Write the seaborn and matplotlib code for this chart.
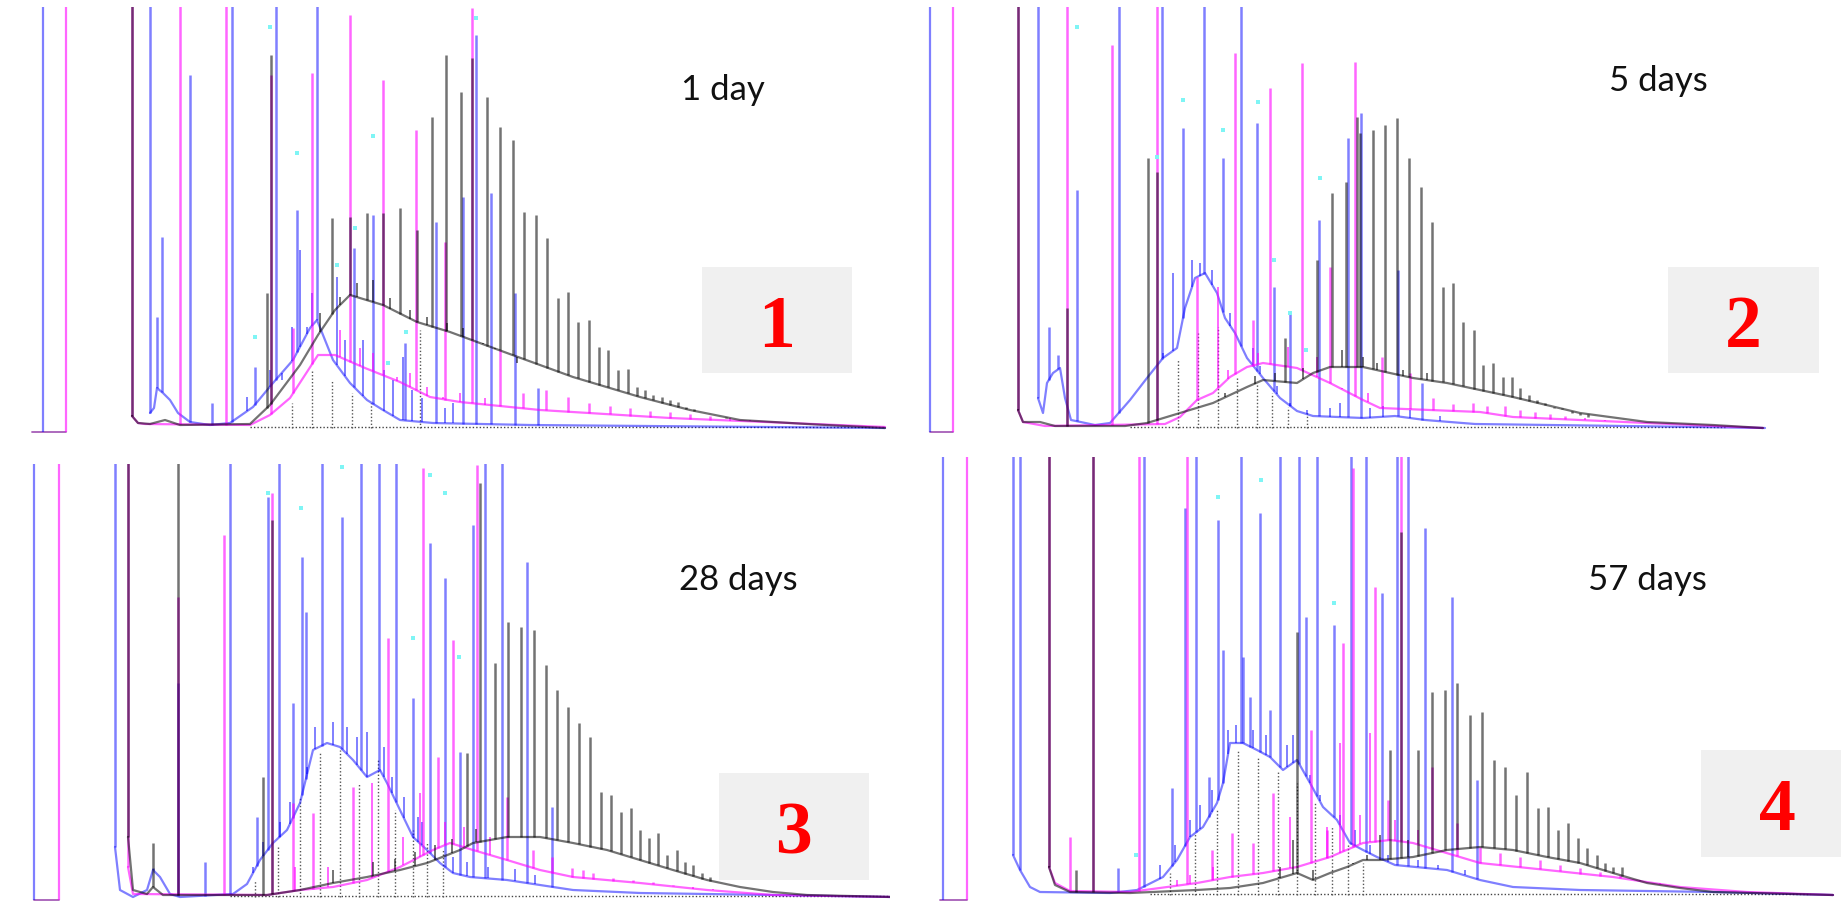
import numpy as np
import matplotlib
matplotlib.use("Agg")
import matplotlib.pyplot as plt
import seaborn as sns
from matplotlib.patches import Rectangle

# ---- data: retention time (rel. units) / intensity (counts above baseline) ----
# values of 480 are off-scale peaks (clipped at the top of each trace window)

day_labels = ["1 day", "5 days", "28 days", "57 days"]
panel_numbers = ["1", "2", "3", "4"]

# panel 1 (1 day)
p1_pre = [1.3, 3.6, 0.2, -4]          # blue line rt, magenta line rt, baseline start, baseline level
p1_blue_hump = [(12.0, 15), (12.4, 20), (12.7, 40), (13.3, 35), (14.0, 28), (14.8, 15), (16.0, 6), (18.0, 3),
                (20.0, 5), (22.3, 21), (24.3, 45), (26.3, 68), (28.0, 100), (28.7, 108), (30.3, 68), (32.0, 45),
                (33.7, 28), (35.3, 18), (37.0, 8), (40.3, 5), (50.0, 3), (85.5, 0)]
p1_blue_peaks = [(12.0, 480), (12.7, 111), (13.2, 191), (16.0, 353), (18.2, 25), (20.2, 480), (22.5, 61),
                 (24.6, 480), (26.7, 218), (28.7, 480), (32.4, 180), (34.3, 213), (37.5, 85), (40.6, 206),
                 (43.3, 231), (44.6, 393), (46.1, 235), (48.5, 135), (50.8, 40)]
p1_blue_minor = [(21.7, 31), (24.0, 58), (25.2, 48), (26.2, 101), (27.0, 178), (27.7, 101), (28.2, 135),
                 (30.7, 151), (31.5, 88), (33.3, 88), (35.4, 58), (36.3, 48), (37.3, 71), (38.2, 38),
                 (39.2, 30), (41.5, 20), (42.3, 25)]
p1_magenta_hump = [(10.2, 12), (10.8, 5), (11.5, 4), (22.0, 3), (24.0, 13), (26.0, 30), (27.5, 53), (28.8, 73),
                   (30.5, 73), (33.5, 60), (37.0, 46), (40.0, 31), (43.0, 26), (51.0, 18), (64.0, 10), (85.5, 1)]
p1_magenta_peaks = [(10.2, 480), (15.0, 480), (19.6, 480), (24.1, 353), (26.3, 100), (28.2, 355), (32.0, 413),
                    (35.3, 348), (38.6, 298), (41.5, 186), (44.2, 420), (47.0, 78), (49.3, 35), (51.6, 38),
                    (53.8, 31), (55.9, 25), (58.0, 22), (60.0, 20), (62.0, 17), (64.0, 16), (66.0, 14), (68.0, 12)]
p1_magenta_minor = [(31.0, 98), (33.0, 80), (34.3, 75), (36.7, 51), (38.0, 55), (39.7, 41), (41.3, 31),
                    (43.0, 35), (45.5, 30), (70.0, 10), (72.0, 8)]
p1_black_hump = [(10.2, 12), (10.8, 5), (12.0, 4), (13.5, 8), (15.0, 3), (22.0, 4), (24.0, 23), (27.0, 63),
                 (28.8, 93), (30.5, 118), (32.0, 133), (35.3, 123), (38.7, 106), (42.0, 96), (47.7, 75),
                 (54.3, 51), (61.0, 31), (66.0, 18), (71.0, 8), (77.7, 4), (85.5, 0)]
p1_black_peaks = [(10.2, 480), (23.7, 135), (24.1, 373), (30.2, 210), (32.0, 211), (33.7, 215), (35.3, 215),
                  (37.0, 220), (38.7, 198), (40.2, 311), (41.6, 373), (43.1, 336), (44.2, 370), (45.7, 331),
                  (47.0, 301), (48.3, 288), (49.4, 216), (50.6, 213), (51.7, 190), (52.8, 130), (53.8, 136),
                  (54.8, 106), (55.9, 108), (56.9, 81), (57.8, 78), (58.8, 58), (59.8, 59), (60.7, 41),
                  (61.5, 38), (62.3, 33), (63.2, 31), (64.0, 28), (64.8, 26), (65.6, 21), (66.4, 19),
                  (67.2, 16), (68.0, 14), (68.8, 12), (69.6, 10)]
p1_black_minor = [(29.0, 115), (31.0, 131), (32.7, 145), (34.3, 148), (36.0, 130), (38.0, 118), (39.7, 111),
                  (41.7, 105), (43.3, 100), (45.3, 85), (46.5, 80), (48.7, 65)]
p1_drops = [(26.2, 25), (28.2, 58), (30.2, 48), (32.2, 35), (34.1, 25), (39.0, 98)]
p1_dotted_base = [22.0, 85.5]
p1_cyan = [(24.0, 401), (26.7, 275), (34.3, 292), (22.5, 91), (30.7, 163), (32.5, 200), (37.6, 96),
           (35.8, 65), (44.6, 410)]

# panel 2 (5 days)
p2_pre = [0.5, 2.8, 0.5, -4]
p2_blue_hump = [(11.3, 30), (11.8, 15), (12.2, 45), (12.8, 55), (13.5, 60), (14.0, 30), (14.6, 8), (17.0, 3),
                (18.5, 5), (20.5, 28), (22.2, 50), (23.8, 70), (25.2, 80), (26.0, 120), (27.0, 150),
                (28.0, 155), (29.2, 135), (30.0, 110), (31.0, 95), (32.2, 70), (33.8, 50), (35.5, 30),
                (37.2, 17), (38.8, 12), (43.8, 10), (47.0, 12), (50.0, 8), (55.0, 4), (70.0, 2), (84.0, 0)]
p2_blue_peaks = [(11.3, 480), (12.4, 101), (13.3, 73), (15.2, 238), (19.4, 480), (23.7, 480), (25.8, 300),
                 (27.9, 480), (29.8, 270), (31.6, 480), (33.2, 305), (34.9, 141), (36.5, 116), (39.4, 208),
                 (42.3, 290), (43.6, 315), (47.3, 158), (49.7, 45)]
p2_blue_minor = [(23.8, 75), (24.8, 155), (26.7, 168), (27.5, 165), (28.7, 158), (30.5, 115), (32.8, 80),
                 (33.5, 62), (35.2, 42), (36.5, 25), (38.2, 18), (40.5, 20), (41.5, 25), (44.5, 20),
                 (45.8, 22), (48.5, 18), (51.5, 12)]
p2_magenta_hump = [(9.3, 18), (9.8, 6), (12.0, 2), (24.0, 4), (25.5, 11), (27.2, 28), (28.8, 35), (30.5, 51),
                   (32.2, 61), (33.8, 65), (37.2, 60), (40.5, 45), (43.8, 28), (45.5, 20), (55.5, 16),
                   (58.8, 11), (72.2, 5), (83.8, 0)]
p2_magenta_peaks = [(9.3, 480), (14.2, 480), (18.7, 383), (23.2, 480), (27.2, 151), (31.0, 375), (32.8, 108),
                    (34.5, 340), (37.7, 365), (40.5, 161), (43.0, 366), (45.7, 71), (48.5, 55), (50.8, 30),
                    (52.8, 24), (54.8, 25), (56.2, 22), (58.0, 22), (59.5, 18), (61.0, 16), (62.5, 14),
                    (64.0, 12)]
p2_magenta_minor = [(29.3, 141), (30.3, 58), (33.3, 75), (36.3, 81), (39.2, 71), (41.7, 40), (44.3, 35),
                    (66.0, 10), (68.0, 8)]
p2_black_hump = [(9.3, 18), (9.8, 6), (11.5, 6), (13.0, 2), (20.0, 2), (22.2, 5), (25.5, 15), (28.8, 25),
                 (32.2, 41), (33.8, 48), (37.2, 45), (38.8, 55), (40.5, 61), (43.8, 61), (46.5, 55),
                 (48.8, 50), (52.2, 45), (58.8, 31), (65.5, 15), (72.2, 6), (78.8, 3), (83.8, 0)]
p2_black_peaks = [(9.3, 480), (14.2, 120), (22.3, 270), (23.2, 256), (36.0, 90), (39.2, 168), (40.7, 235),
                  (42.1, 246), (43.2, 311), (43.5, 295), (44.8, 298), (46.0, 303), (47.2, 310), (48.4, 270),
                  (49.6, 241), (50.7, 206), (51.8, 141), (52.8, 145), (53.8, 106), (54.9, 98), (55.8, 63),
                  (56.8, 65), (57.8, 51), (58.7, 51), (59.5, 40), (60.4, 33), (61.2, 28), (62.0, 25),
                  (62.9, 20), (63.7, 20), (64.7, 15), (65.5, 13), (66.3, 11)]
p2_black_minor = [(30.0, 35), (33.0, 52), (35.0, 55), (37.8, 60), (41.7, 78), (43.8, 71), (45.2, 65),
                  (47.8, 58), (50.2, 55)]
p2_drops = [(25.3, 68), (27.3, 95), (29.3, 101), (31.2, 51), (33.2, 45), (34.7, 35), (36.3, 21), (38.2, 15)]
p2_dotted_base = [20.5, 80.0]
p2_cyan = [(15.2, 401), (25.8, 328), (29.8, 298), (33.3, 326), (39.5, 250), (23.2, 271), (36.5, 115),
           (34.9, 168), (38.1, 78)]

# panel 3 (28 days)
p3_pre = [0.4, 2.9, 0.4, -3]
p3_blue_hump = [(8.5, 50), (9.0, 7), (10.3, 0), (11.7, 7), (12.3, 27), (13.0, 20), (14.0, 3), (15.0, 0),
                (20.3, 3), (21.7, 13), (23.0, 37), (24.3, 54), (25.7, 67), (27.0, 94), (28.3, 147),
                (29.7, 154), (31.0, 150), (32.3, 137), (33.7, 120), (35.0, 127), (35.7, 114), (37.0, 87),
                (38.3, 60), (39.7, 47), (41.0, 34), (42.3, 24), (44.0, 20), (47.7, 17), (54.3, 7),
                (61.0, 4), (74.3, 2), (86.0, 0)]
p3_blue_peaks = [(8.5, 480), (12.3, 29), (14.8, 214), (17.5, 35), (20.0, 480), (22.7, 80), (23.8, 400),
                 (24.9, 480), (26.3, 194), (27.2, 340), (27.6, 285), (29.2, 480), (31.2, 380), (33.1, 480),
                 (34.9, 480), (36.6, 480), (38.3, 199), (40.0, 354), (41.5, 319), (43.0, 145), (44.3, 372),
                 (45.5, 480), (47.2, 480), (49.7, 335), (52.2, 90)]
p3_blue_minor = [(22.3, 30), (23.3, 55), (25.0, 75), (26.0, 95), (27.7, 130), (28.5, 170), (30.3, 175),
                 (31.7, 170), (32.7, 160), (33.7, 165), (35.4, 150), (36.2, 120), (37.4, 100), (38.8, 80),
                 (39.2, 75), (42.3, 40), (43.7, 35), (45.8, 30), (48.5, 28), (50.5, 22)]
p3_magenta_hump = [(9.8, 30), (10.3, 3), (23.7, 2), (27.0, 7), (30.3, 10), (33.7, 17), (37.0, 30),
                   (40.3, 47), (42.0, 54), (44.3, 47), (47.7, 37), (51.0, 27), (54.3, 20), (61.0, 14),
                   (67.7, 7), (74.3, 2), (86.3, 0)]
p3_magenta_peaks = [(9.8, 480), (14.8, 300), (19.4, 362), (24.2, 404), (26.3, 94), (28.3, 84), (32.3, 110),
                    (35.8, 259), (39.3, 429), (40.8, 140), (42.3, 257), (44.7, 432), (47.7, 100),
                    (50.3, 47), (52.2, 40), (54.2, 29), (55.3, 27), (56.3, 24), (58.3, 19), (60.3, 17),
                    (62.3, 15), (64.3, 12)]
p3_magenta_minor = [(26.5, 30), (29.8, 30), (34.2, 114), (37.3, 60), (39.0, 104), (41.5, 75), (43.4, 70),
                    (46.0, 60), (66.3, 10), (68.3, 8)]
p3_black_hump = [(9.8, 60), (10.3, 7), (11.7, 3), (12.3, 10), (13.3, 2), (23.7, 2), (27.0, 7), (30.3, 14),
                 (33.7, 20), (37.0, 27), (39.7, 34), (43.0, 47), (44.3, 54), (47.7, 60), (51.0, 60),
                 (54.3, 54), (57.7, 47), (61.0, 37), (64.3, 27), (67.7, 17), (71.0, 10), (74.3, 5),
                 (77.7, 2), (86.3, 0)]
p3_black_peaks = [(9.8, 480), (12.3, 54), (14.8, 480), (23.3, 120), (24.2, 377), (43.7, 144), (45.0, 414),
                  (46.5, 234), (47.8, 275), (49.1, 270), (50.4, 267), (51.6, 232), (52.7, 207), (53.8, 190),
                  (54.9, 174), (56.0, 160), (57.1, 105), (58.1, 102), (59.1, 85), (60.1, 89), (61.0, 67),
                  (61.9, 59), (62.8, 64), (63.7, 42), (64.7, 47), (65.5, 35), (66.3, 32), (67.2, 24),
                  (68.0, 20)]
p3_black_minor = [(30.3, 27), (34.3, 35), (36.5, 38), (38.5, 45), (40.5, 52), (42.2, 58), (44.6, 68)]
p3_drops = [(22.5, 17), (24.8, 50), (27.0, 100), (29.0, 144), (31.0, 147), (32.9, 114), (34.8, 137),
            (36.5, 87), (38.3, 67), (39.7, 54), (41.3, 47)]
p3_dotted_base = [20.0, 86.0]
p3_cyan = [(23.8, 404), (27.1, 389), (31.2, 430), (40.0, 422), (41.5, 404), (38.3, 259), (42.9, 240)]

# panel 4 (57 days)
p4_pre = [1.3, 3.7, 1.0, -5]
p4_blue_hump = [(8.3, 40), (9.0, 25), (10.0, 8), (11.0, 3), (18.0, 2), (20.7, 5), (23.3, 18), (24.7, 35),
                (26.0, 58), (27.3, 68), (28.7, 92), (29.3, 112), (30.0, 152), (31.3, 152), (32.7, 145),
                (34.0, 138), (35.3, 125), (36.7, 135), (38.0, 112), (39.3, 88), (40.7, 75), (42.0, 52),
                (43.3, 45), (44.7, 38), (46.5, 30), (51.7, 25), (55.0, 15), (58.3, 8), (65.0, 5),
                (78.3, 3), (90.3, 0)]
p4_blue_peaks = [(8.3, 480), (9.0, 480), (18.8, 27), (21.4, 480), (24.2, 107), (25.5, 387), (26.6, 480),
                 (27.9, 118), (28.8, 375), (29.3, 245), (31.1, 480), (31.3, 238), (32.0, 198), (33.0, 382),
                 (34.0, 185), (35.0, 480), (36.9, 480), (37.6, 278), (38.7, 480), (40.4, 270), (42.1, 480),
                 (43.6, 480), (45.2, 302), (46.7, 480), (47.8, 480), (49.5, 367), (52.2, 298), (54.7, 115)]
p4_blue_minor = [(23.0, 30), (24.5, 50), (26.0, 75), (27.0, 90), (28.2, 105), (29.8, 165), (30.6, 170),
                 (32.3, 165), (33.6, 160), (35.7, 150), (36.3, 160), (38.0, 120), (39.0, 100), (41.0, 80),
                 (42.5, 65), (44.0, 50), (45.8, 40), (48.8, 35), (50.8, 30), (53.5, 25)]
p4_magenta_hump = [(11.9, 28), (12.5, 12), (14.0, 4), (20.0, 3), (26.7, 12), (30.0, 18), (33.3, 22),
                   (36.7, 28), (40.0, 38), (43.3, 52), (46.0, 55), (48.3, 52), (55.0, 32), (61.7, 25),
                   (68.3, 18), (75.0, 8), (81.7, 3), (90.3, 0)]
p4_magenta_peaks = [(11.9, 480), (14.0, 58), (16.3, 480), (20.9, 480), (25.7, 480), (28.2, 45), (30.2, 62),
                    (32.3, 52), (34.3, 102), (38.1, 165), (39.7, 65), (41.3, 252), (42.3, 427), (44.5, 308),
                    (45.8, 95), (47.1, 480), (50.2, 128), (52.7, 72), (55.0, 48), (57.0, 42), (59.0, 38),
                    (61.0, 35), (63.0, 30), (65.0, 27), (67.0, 23), (69.0, 20)]
p4_magenta_minor = [(24.7, 15), (26.0, 20), (28.3, 28), (36.0, 78), (39.7, 68), (41.0, 152), (43.0, 80),
                    (44.0, 162), (46.5, 75), (48.8, 65), (71.0, 15), (73.0, 12)]
p4_black_hump = [(11.9, 28), (12.5, 10), (14.0, 3), (20.0, 2), (26.7, 5), (30.0, 7), (33.3, 12), (36.7, 22),
                 (38.3, 15), (40.0, 22), (41.7, 28), (43.3, 35), (45.0, 35), (48.3, 38), (51.7, 45),
                 (55.0, 48), (58.3, 45), (61.7, 38), (65.0, 32), (68.3, 22), (71.7, 12), (75.0, 7),
                 (78.3, 3), (90.3, 0)]
p4_black_peaks = [(11.9, 480), (14.6, 25), (16.3, 480), (36.7, 263), (46.0, 145), (47.1, 363), (48.8, 145),
                  (50.2, 203), (51.5, 205), (52.7, 212), (54.0, 180), (55.2, 183), (56.4, 135), (57.5, 128),
                  (58.6, 100), (59.7, 123), (60.8, 87), (61.8, 88), (62.8, 65), (63.8, 72), (64.8, 57),
                  (65.7, 47), (66.7, 40), (67.5, 32), (68.3, 28), (69.2, 28)]
p4_black_minor = [(35.0, 28), (36.3, 55), (38.3, 25), (42.3, 32), (43.7, 40), (45.0, 60), (47.8, 55)]
p4_drops = [(24.0, 22), (26.5, 62), (28.7, 85), (30.8, 145), (32.8, 138), (34.8, 125), (36.7, 112),
            (38.5, 92), (40.2, 68), (41.8, 52), (43.3, 32)]
p4_dotted_base = [22.0, 88.0]
p4_cyan = [(28.8, 398), (33.1, 415), (40.4, 292), (20.6, 40)]

W, H = 1841, 902
BLUE = (0.0, 0.0, 1.0)
MAGENTA = (1.0, 0.0, 1.0)
BLACK = (0.0, 0.0, 0.0)


def draw_trace(ax, hump, peaks, minor, color, alpha):
    rt = [p[0] for p in hump]
    inten = [p[1] for p in hump]
    sns.lineplot(x=rt, y=inten, ax=ax, color=color, alpha=alpha, lw=1.6,
                 sort=False, estimator=None, legend=False)
    for plist, lw in ((peaks, 1.8), (minor, 1.4)):
        prt = np.array([p[0] for p in plist])
        top = np.array([p[1] for p in plist])
        base = np.interp(prt, rt, inten)
        ax.vlines(prt, base, top, color=color, alpha=alpha, lw=lw)


def draw_panel(fig, box, xlim, ylim, pre, blue, magenta, black, drops, dotted, cyan):
    x0, y0, x1, y1 = box
    ax = fig.add_axes([x0 / W, 1 - y1 / H, (x1 - x0) / W, (y1 - y0) / H])
    ax.set_xlim(*xlim)
    ax.set_ylim(*ylim)
    ax.set_axis_off()
    ax.patch.set_alpha(0)

    # dotted baseline and drop lines
    ax.plot(dotted, [1, 1], color="#444444", ls=(0, (1, 1.5)), lw=1.0)
    ax.vlines([d[0] for d in drops], 0, [d[1] for d in drops], color="#555555",
              linestyles=(0, (1, 1.5)), lw=1.0)

    # lines left of the solvent gap
    b_rt, m_rt, start, lvl = pre
    ax.plot([start, m_rt], [lvl, lvl], color=(0.5, 0.1, 0.6), alpha=0.7, lw=1.3)
    ax.vlines([b_rt], lvl, 480, color=BLUE, alpha=0.5, lw=1.6)
    ax.vlines([m_rt], lvl, 480, color=MAGENTA, alpha=0.6, lw=1.6)

    draw_trace(ax, *blue, BLUE, 0.5)
    draw_trace(ax, *magenta, MAGENTA, 0.6)
    draw_trace(ax, *black, BLACK, 0.55)

    ax.scatter([c[0] for c in cyan], [c[1] for c in cyan], s=6, marker="s",
               color="#7ff5f5", linewidths=0, zorder=4)
    return ax


sns.set_style("white")
plt.rcParams["font.family"] = ["Lato", "DejaVu Sans"]

fig = plt.figure(figsize=(W / 100, H / 100), dpi=100)

draw_panel(fig, (30, 7, 890, 436), (0, 86), (-8, 421), p1_pre,
           (p1_blue_hump, p1_blue_peaks, p1_blue_minor),
           (p1_magenta_hump, p1_magenta_peaks, p1_magenta_minor),
           (p1_black_hump, p1_black_peaks, p1_black_minor), p1_drops, p1_dotted_base, p1_cyan)
draw_panel(fig, (925, 7, 1785, 436), (0, 86), (-8, 421), p2_pre,
           (p2_blue_hump, p2_blue_peaks, p2_blue_minor),
           (p2_magenta_hump, p2_magenta_peaks, p2_magenta_minor),
           (p2_black_hump, p2_black_peaks, p2_black_minor), p2_drops, p2_dotted_base, p2_cyan)
draw_panel(fig, (30, 464, 890, 902), (0, 86), (-5, 433), p3_pre,
           (p3_blue_hump, p3_blue_peaks, p3_blue_minor),
           (p3_magenta_hump, p3_magenta_peaks, p3_magenta_minor),
           (p3_black_hump, p3_black_peaks, p3_black_minor), p3_drops, p3_dotted_base, p3_cyan)
draw_panel(fig, (930, 457, 1841, 902), (0, 91.1), (-7, 438), p4_pre,
           (p4_blue_hump, p4_blue_peaks, p4_blue_minor),
           (p4_magenta_hump, p4_magenta_peaks, p4_magenta_minor),
           (p4_black_hump, p4_black_peaks, p4_black_minor), p4_drops, p4_dotted_base, p4_cyan)

# day labels
label_pos = [(723, 100), (1658, 91), (738, 590), (1647, 590)]
for txt, (cx, by) in zip(day_labels, label_pos):
    fig.text(cx / W, 1 - by / H, txt, ha="center", va="baseline", fontsize=25, color="#111111")

# grey boxes with panel numbers
boxes = [(702, 267, 852, 373), (1668, 267, 1819, 373), (719, 773, 869, 880), (1701, 750, 1841, 857)]
num_pos = [(777, 347), (1743, 347), (793, 853), (1777, 830)]
for n, (bx0, by0, bx1, by1), (cx, by) in zip(panel_numbers, boxes, num_pos):
    rect = Rectangle((bx0 / W, 1 - by1 / H), (bx1 - bx0) / W, (by1 - by0) / H,
                     transform=fig.transFigure, facecolor="#f0f0f0", edgecolor="none", zorder=5)
    fig.add_artist(rect)
    fig.text(cx / W, 1 - by / H, n, ha="center", va="baseline", fontsize=53, fontweight="bold",
             color="red", family=["Liberation Serif", "DejaVu Serif"], zorder=6)

fig.savefig("out.png", dpi=100)
